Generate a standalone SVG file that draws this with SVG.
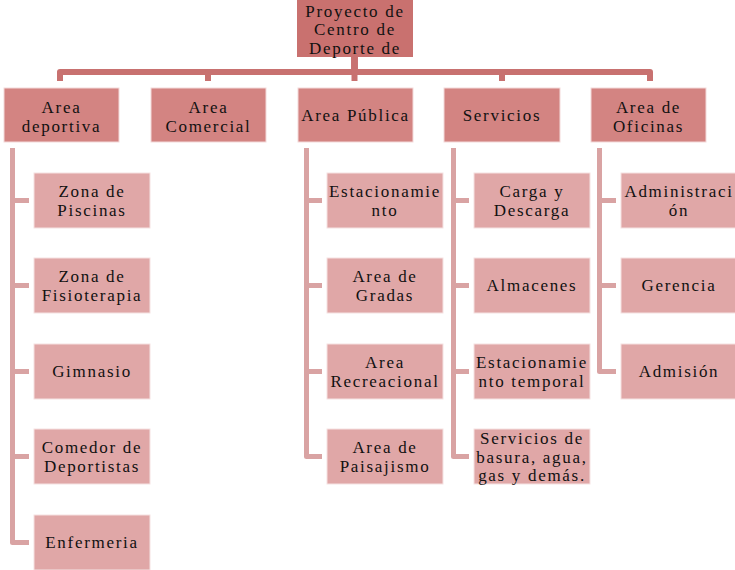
<svg xmlns="http://www.w3.org/2000/svg" width="735" height="570" viewBox="0 0 735 570">
<style>
text{font-family:"Liberation Serif","Times New Roman",serif;font-size:17px;letter-spacing:1.7px;fill:#111;text-anchor:middle}
.top{fill:#c9716f}
.l1{fill:#d38482;stroke:#f3dada;stroke-width:1}
.l2{fill:#e0a7a7;stroke:#f5e2e2;stroke-width:1}
.c0{fill:none;stroke:#c87170;stroke-width:6;stroke-linejoin:round}
.c1{fill:none;stroke:#d9a3a3;stroke-width:5;stroke-linejoin:round}
</style>
<rect width="735" height="570" fill="#fff"/>
<g id="connectors">
<path class="c0" d="M354.5,56V72H60V81"/>
<path class="c0" d="M354.5,56V72H208V81"/>
<path class="c0" d="M354.5,56V81"/>
<path class="c0" d="M354.5,56V72H502V81"/>
<path class="c0" d="M354.5,56V72H650V81"/>
<path class="c1" d="M12.5,148V200.5H29"/>
<path class="c1" d="M12.5,148V285.5H29"/>
<path class="c1" d="M12.5,148V371.5H29"/>
<path class="c1" d="M12.5,148V456.5H29"/>
<path class="c1" d="M12.5,148V542.5H29"/>
<path class="c1" d="M306.5,148V200.5H322"/>
<path class="c1" d="M306.5,148V285.5H322"/>
<path class="c1" d="M306.5,148V371.5H322"/>
<path class="c1" d="M306.5,148V456.5H322"/>
<path class="c1" d="M453.5,148V200.5H469"/>
<path class="c1" d="M453.5,148V285.5H469"/>
<path class="c1" d="M453.5,148V371.5H469"/>
<path class="c1" d="M453.5,148V456.5H469"/>
<path class="c1" d="M599.5,148V200.5H616"/>
<path class="c1" d="M599.5,148V285.5H616"/>
<path class="c1" d="M599.5,148V371.5H616"/>
</g>
<g id="root">
<rect class="top" x="297" y="0" width="116" height="57"/>
<text x="355" y="16.5">Proyecto de</text>
<text x="355" y="35">Centro de</text>
<text x="355" y="54">Deporte de</text>
</g>
<g id="area-deportiva">
<rect class="l1" x="4" y="88" width="115" height="54"/>
<text x="61.5" y="113">Area</text>
<text x="61.5" y="131.5">deportiva</text>
</g>
<g id="area-comercial">
<rect class="l1" x="151" y="88" width="115" height="54"/>
<text x="208.5" y="113">Area</text>
<text x="208.5" y="131.5">Comercial</text>
</g>
<g id="area-publica">
<rect class="l1" x="298" y="88" width="115" height="54"/>
<text x="355.5" y="121">Area Pública</text>
</g>
<g id="servicios">
<rect class="l1" x="444" y="88" width="116" height="54"/>
<text x="502" y="121">Servicios</text>
</g>
<g id="area-oficinas">
<rect class="l1" x="591" y="88" width="115" height="54"/>
<text x="648.5" y="113">Area de</text>
<text x="648.5" y="131.5">Oficinas</text>
</g>
<g id="zona-piscinas">
<rect class="l2" x="34" y="173" width="116" height="55"/>
<text x="92" y="196.5">Zona de</text>
<text x="92" y="215.5">Piscinas</text>
</g>
<g id="zona-fisioterapia">
<rect class="l2" x="34" y="258" width="116" height="55"/>
<text x="92" y="281.5">Zona de</text>
<text x="92" y="300.5">Fisioterapia</text>
</g>
<g id="gimnasio">
<rect class="l2" x="34" y="344" width="116" height="55"/>
<text x="92" y="377">Gimnasio</text>
</g>
<g id="comedor">
<rect class="l2" x="34" y="429" width="116" height="55"/>
<text x="92" y="452.5">Comedor de</text>
<text x="92" y="471.5">Deportistas</text>
</g>
<g id="enfermeria">
<rect class="l2" x="34" y="515" width="116" height="55"/>
<text x="92" y="548">Enfermeria</text>
</g>
<g id="estacionamiento">
<rect class="l2" x="327" y="173" width="116" height="55"/>
<text x="385" y="196.5">Estacionamie</text>
<text x="385" y="215.5">nto</text>
</g>
<g id="area-gradas">
<rect class="l2" x="327" y="258" width="116" height="55"/>
<text x="385" y="281.5">Area de</text>
<text x="385" y="300.5">Gradas</text>
</g>
<g id="area-recreacional">
<rect class="l2" x="327" y="344" width="116" height="55"/>
<text x="385" y="367.5">Area</text>
<text x="385" y="386.5">Recreacional</text>
</g>
<g id="area-paisajismo">
<rect class="l2" x="327" y="429" width="116" height="55"/>
<text x="385" y="452.5">Area de</text>
<text x="385" y="471.5">Paisajismo</text>
</g>
<g id="carga-descarga">
<rect class="l2" x="474" y="173" width="116" height="55"/>
<text x="532" y="196.5">Carga y</text>
<text x="532" y="215.5">Descarga</text>
</g>
<g id="almacenes">
<rect class="l2" x="474" y="258" width="116" height="55"/>
<text x="532" y="291">Almacenes</text>
</g>
<g id="estacionamiento-temporal">
<rect class="l2" x="474" y="344" width="116" height="55"/>
<text x="532" y="367.5">Estacionamie</text>
<text x="532" y="386.5">nto temporal</text>
</g>
<g id="servicios-basura">
<rect class="l2" x="474" y="429" width="116" height="55"/>
<text x="532" y="443.5">Servicios de</text>
<text x="532" y="462.5">basura, agua,</text>
<text x="532" y="481">gas y demás.</text>
</g>
<g id="administracion">
<rect class="l2" x="621" y="173" width="116" height="55"/>
<text x="679" y="196.5">Administraci</text>
<text x="679" y="215.5">ón</text>
</g>
<g id="gerencia">
<rect class="l2" x="621" y="258" width="116" height="55"/>
<text x="679" y="291">Gerencia</text>
</g>
<g id="admision">
<rect class="l2" x="621" y="344" width="116" height="55"/>
<text x="679" y="377">Admisión</text>
</g>
</svg>
